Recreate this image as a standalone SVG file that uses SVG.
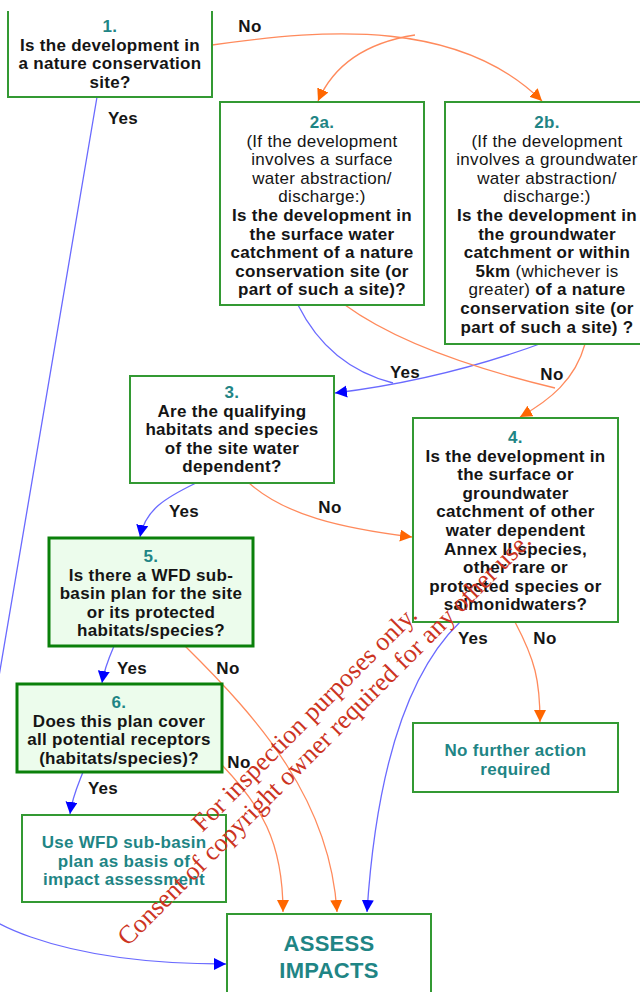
<svg xmlns="http://www.w3.org/2000/svg" width="640" height="992" viewBox="0 0 640 992">
<style>
.box{fill:#fff;stroke:#339933;stroke-width:2}
.box2{fill:#ecfcec;stroke:#0a800a;stroke-width:3}
text{font-family:"Liberation Sans",Arial,sans-serif;font-size:17px;letter-spacing:0.3px;text-anchor:middle;fill:#151515}
.b{font-weight:bold}
.r{font-weight:normal}
.n{font-weight:bold;fill:#1f8585}
.o{font-weight:bold;fill:#1f8585}
.big{font-weight:bold;fill:#1f8585;font-size:22px}
.lbl{font-weight:bold}
.no{fill:none;stroke:#ff8a5c;stroke-width:1.3}
.yes{fill:none;stroke:#6a6aff;stroke-width:1.3}
.wm{font-family:"Liberation Serif","Times New Roman",serif;font-size:26px;fill:#cc3322;letter-spacing:0}
</style>
<defs>
<marker id="ao" markerUnits="userSpaceOnUse" markerWidth="14" markerHeight="14" refX="12" refY="6" orient="auto"><path d="M0,0 L12,6 L0,12 z" fill="#ff6600"/></marker>
<marker id="ab" markerUnits="userSpaceOnUse" markerWidth="14" markerHeight="14" refX="12" refY="6" orient="auto"><path d="M0,0 L12,6 L0,12 z" fill="#0000ff"/></marker>
</defs>

<g id="connectors">
<path class="no" d="M212,45 C330,28 460,20 542,101" marker-end="url(#ao)"/>
<path class="no" d="M415,35 C370,42 335,62 318,101" marker-end="url(#ao)"/>
<path class="yes" d="M97,97 L-5,700 L-40,880 C-40,920 60,964 226,964" marker-end="url(#ab)"/>
<path class="yes" d="M298,305 C318,345 350,372 393,383"/>
<path class="yes" d="M545,342 C470,370 400,385 335,393" marker-end="url(#ab)"/>
<path class="no" d="M345,305 C400,345 480,370 555,388"/>
<path class="no" d="M585,344 C575,380 550,400 520,417" marker-end="url(#ao)"/>
<path class="yes" d="M196,483 C165,498 145,510 140,537" marker-end="url(#ab)"/>
<path class="no" d="M249,483 C285,515 340,528 412,537" marker-end="url(#ao)"/>
<path class="yes" d="M460,622 C400,680 375,790 367,912" marker-end="url(#ab)"/>
<path class="no" d="M515,622 C535,660 540,680 540,722" marker-end="url(#ao)"/>
<path class="yes" d="M114,646 C108,660 104,670 102,683" marker-end="url(#ab)"/>
<path class="no" d="M185,646 C260,720 330,800 337,912" marker-end="url(#ao)"/>
<path class="yes" d="M83,772 C78,785 72,798 70,814" marker-end="url(#ab)"/>
<path class="no" d="M222,765 C260,805 283,840 283,912" marker-end="url(#ao)"/>
<text class="lbl" x="250" y="32">No</text>
<text class="lbl" x="123" y="124">Yes</text>
<text class="lbl" x="405" y="378">Yes</text>
<text class="lbl" x="552" y="380">No</text>
<text class="lbl" x="184" y="517">Yes</text>
<text class="lbl" x="330" y="513">No</text>
<text class="lbl" x="473" y="644">Yes</text>
<text class="lbl" x="545" y="644">No</text>
<text class="lbl" x="132" y="674">Yes</text>
<text class="lbl" x="228" y="674">No</text>
<text class="lbl" x="103" y="794">Yes</text>
<text class="lbl" x="239" y="768">No</text>
</g>

<g id="n1">
<path class="box" d="M8,11 V97 H212 V11"/>
<text class="n" x="110" y="32">1.</text>
<text class="b" x="110" y="50.5">Is the development in</text>
<text class="b" x="110" y="69">a nature conservation</text>
<text class="b" x="110" y="87.5">site?</text>
</g>

<g id="n2a">
<rect class="box" x="220" y="102" width="204" height="203"/>
<text class="n" x="322" y="128">2a.</text>
<text class="r" x="322" y="146.6">(If the development</text>
<text class="r" x="322" y="165.2">involves a surface</text>
<text class="r" x="322" y="183.8">water abstraction/</text>
<text class="r" x="322" y="202.4">discharge:)</text>
<text class="b" x="322" y="221">Is the development in</text>
<text class="b" x="322" y="239.6">the surface water</text>
<text class="b" x="322" y="258.2">catchment of a nature</text>
<text class="b" x="322" y="276.8">conservation site (or</text>
<text class="b" x="322" y="295.4">part of such a site)?</text>
</g>

<g id="n2b">
<rect class="box" x="445" y="102" width="204" height="242"/>
<text class="n" x="547" y="128">2b.</text>
<text class="r" x="547" y="146.6">(If the development</text>
<text class="r" x="547" y="165.2">involves a groundwater</text>
<text class="r" x="547" y="183.8">water abstraction/</text>
<text class="r" x="547" y="202.4">discharge:)</text>
<text class="b" x="547" y="221">Is the development in</text>
<text class="b" x="547" y="239.6">the groundwater</text>
<text class="b" x="547" y="258.2">catchment or within</text>
<text x="547" y="276.8"><tspan class="b">5km </tspan><tspan class="r">(whichever is</tspan></text>
<text x="547" y="295.4"><tspan class="r">greater)</tspan><tspan class="b"> of a nature</tspan></text>
<text class="b" x="547" y="314">conservation site (or</text>
<text class="b" x="547" y="332.6">part of such a site) ?</text>
</g>

<g id="n3">
<rect class="box" x="130" y="376" width="204" height="107"/>
<text class="n" x="232" y="398">3.</text>
<text class="b" x="232" y="416.6">Are the qualifying</text>
<text class="b" x="232" y="435.2">habitats and species</text>
<text class="b" x="232" y="453.8">of the site water</text>
<text class="b" x="232" y="472.4">dependent?</text>
</g>

<g id="n4">
<rect class="box" x="413" y="418" width="205" height="204"/>
<text class="n" x="515.5" y="443">4.</text>
<text class="b" x="515.5" y="461.6">Is the development in</text>
<text class="b" x="515.5" y="480.2">the surface or</text>
<text class="b" x="515.5" y="498.8">groundwater</text>
<text class="b" x="515.5" y="517.4">catchment of other</text>
<text class="b" x="515.5" y="536">water dependent</text>
<text class="b" x="515.5" y="554.6">Annex II species,</text>
<text class="b" x="515.5" y="573.2">other rare or</text>
<text class="b" x="515.5" y="591.8">protected species or</text>
<text class="b" x="515.5" y="610.4">salmonidwaters?</text>
</g>

<g id="n5">
<rect class="box2" x="49" y="538" width="204" height="108"/>
<text class="n" x="151" y="562">5.</text>
<text class="b" x="151" y="580.6">Is there a WFD sub-</text>
<text class="b" x="151" y="599.2">basin plan for the site</text>
<text class="b" x="151" y="617.8">or its protected</text>
<text class="b" x="151" y="636.4">habitats/species?</text>
</g>

<g id="n6">
<rect class="box2" x="17" y="684" width="205" height="88"/>
<text class="n" x="119" y="708">6.</text>
<text class="b" x="119" y="726.6">Does this plan cover</text>
<text class="b" x="119" y="745.2">all potential receptors</text>
<text class="b" x="119" y="763.8">(habitats/species)?</text>
</g>

<g id="nUse">
<rect class="box" x="22" y="815" width="204" height="87"/>
<text class="o" x="124" y="848">Use WFD sub-basin</text>
<text class="o" x="124" y="866.6">plan as basis of</text>
<text class="o" x="124" y="885.2">impact assessment</text>
</g>

<g id="nNo">
<rect class="box" x="413" y="723" width="205" height="69"/>
<text class="o" x="515.5" y="756">No further action</text>
<text class="o" x="515.5" y="774.6">required</text>
</g>

<g id="nAssess">
<rect class="box" x="227" y="914" width="204" height="100"/>
<text class="big" x="329" y="951">ASSESS</text>
<text class="big" x="329" y="978">IMPACTS</text>
</g>

<g id="watermark" transform="rotate(-45)">
<text class="wm" x="-293" y="732">For inspection purposes only.</text>
<text class="wm" x="-293" y="760">Consent of copyright owner required for any other use.</text>
</g>
</svg>
